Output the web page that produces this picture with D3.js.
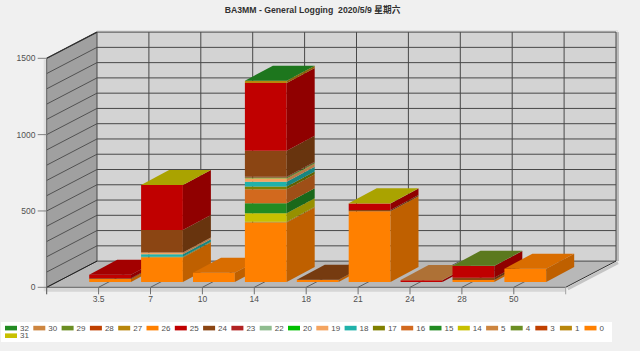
<!DOCTYPE html>
<html><head><meta charset="utf-8">
<script src="https://cdn.jsdelivr.net/npm/d3@7/dist/d3.min.js"></script>
<style>html,body{margin:0;padding:0;background:#f0f0f0}svg{display:block}text{font-family:"Liberation Sans",Arial,sans-serif;fill:#505050}</style>
</head><body><svg id="c" width="640" height="351"></svg>
<script>
const categories=["3.5","7","10","14","18","21","24","28","50"];
const seriesNames=["32","30","29","28","27","26","25","24","23","22","20","19","18","17","16","15","14","5","4","3","1","0","31"];
const seriesColors=["#228b22","#cd853f","#6b8e23","#c04000","#b8860b","#ff8000","#c00000","#8b4513","#b22222","#8fbc8f","#00c000","#f4a460","#20b2aa","#808000","#d2691e","#228b22","#c8c000","#cd853f","#6b8e23","#c04000","#b8860b","#ff8000","#c8c000"];
const stackOrder=["0","1","3","4","5","14","15","16","17","18","19","20","22","23","24","25","26","27","28","29","30","31","32"];
const values={
 "0":[20,160,60,390,13,463,0,13,87],
 "1":[0,3,0,4,0,0,0,0,0],
 "14":[0,0,0,57,0,0,0,0,0],
 "15":[0,0,0,65,0,0,0,0,0],
 "16":[0,0,0,92,0,0,0,0,0],
 "17":[0,3,0,17,0,0,0,0,0],
 "18":[0,15,0,31,0,0,0,0,0],
 "19":[0,13,0,24,0,0,0,0,0],
 "20":[0,0,0,5,0,0,0,0,0],
 "23":[0,0,0,5,0,0,0,0,0],
 "24":[5,146,0,170,1,8,0,15,0],
 "25":[23,295,0,444,0,44,12,77,0],
 "27":[0,0,0,14,0,0,0,0,0],
 "29":[0,0,0,0,0,0,0,1,0],
 "30":[0,0,0,0,0,0,1,0,0],
 "31":[0,1,0,0,0,1,0,0,0],
 "32":[0,0,0,1,0,0,0,0,0]
};
const yTicks=[0,500,1000,1500];
const yGrid=d3.range(0,1501,100);
const colorOf=Object.fromEntries(seriesNames.map((n,i)=>[n,seriesColors[i]]));

const svg=d3.select("#c");
const DX=50.3,DY=-26.2;
const x=d3.scaleLinear().domain([0,10]).range([46.7,565.7]);
const y=d3.scaleLinear().domain([0,1500]).range([287.3,58.3]);
const poly=(pts,f)=>svg.append("polygon").attr("points",pts.map(p=>p.join(",")).join(" ")).attr("fill",f);
const line=(a,b,s,w)=>svg.append("line").attr("x1",a[0]).attr("y1",a[1]).attr("x2",b[0]).attr("y2",b[1]).attr("stroke",s).attr("stroke-width",w||1);
const x0=x(0),x1=x(10),yb=y(0),yt=y(1500);
svg.append("rect").attr("width",640).attr("height",351).attr("fill","#f0f0f0");
// soft edges
line([x0-1.5,yt+1],[x0-1.5,yb+4],"#dedede",3);
line([x0,yb+2.5],[x1,yb+2.5],"#d6d6d6",4);
line([x1+2,yb+1.5],[x1+DX+2,yb+DY+1.5],"#c4c4c4",3);
line([x1+DX+1.5,yt+DY],[x1+DX+1.5,yb+DY],"#bcbcbc",3);
line([x0+DX,yt+DY-1],[x1+DX+2,yt+DY-1],"#dcdcdc",1.5);
// walls
poly([[x0+DX,yt+DY],[x1+DX,yt+DY],[x1+DX,yb+DY],[x0+DX,yb+DY]],"#d3d3d3");
poly([[x0,yt],[x0+DX,yt+DY],[x0+DX,yb+DY],[x0,yb]],"#a0a0a0");
poly([[x0,yb],[x1,yb],[x1+DX,yb+DY],[x0+DX,yb+DY]],"#b8b8b8");
// grid
yGrid.forEach(v=>{
  line([x0,y(v)],[x0+DX,y(v)+DY],"#484848",0.9);
  line([x0+DX,y(v)+DY],[x1+DX,y(v)+DY],"#484848",1);
});
d3.range(0,11).forEach(i=>{
  line([x(i)+DX,yt+DY],[x(i)+DX,yb+DY],"#484848",1);
  if(i>0&&i<10) line([x(i),yb],[x(i)+DX,yb+DY],"#606060",1);
});
line([x0,yb],[x0+DX,yb+DY],"#202020",1);
line([x0,yt],[x0+DX,yt+DY],"#303030",1.2);
line([x0,yb],[x1,yb],"#606060",1);
line([x1,yb],[x1+DX,yb+DY],"#303030",1);
line([x0,yt],[x0,yb],"#606060",1);
// axes
yTicks.forEach(v=>{
  line([x0-9,y(v)],[x0,y(v)],"#808080",1);
  svg.append("text").attr("x",35.5).attr("y",y(v)+3).attr("text-anchor","end").attr("font-size",8.5).text(v);
});
line([x0,yb],[x0,yb+7],"#505050",1);
line([x1,yb],[x1,yb+7],"#a0a0a0",1);
categories.forEach((c,i)=>{
  line([x(i+1),yb],[x(i+1),yb+7],"#707070",1);
  svg.append("text").attr("x",x(i+1)).attr("y",302).attr("text-anchor","middle").attr("font-size",8.5).text(c);
});
// bars
const BW=41.8,BDX=28,BDY=-15,OFF=11.5,BY=-5.3;
const shade=(c,f)=>{const r=d3.rgb(c);return d3.rgb(r.r*f,r.g*f,r.b*f).formatHex();};
categories.forEach((c,i)=>{
  const left=x(i+1)+OFF-BW/2, right=left+BW;
  let acc=0,topColor=null;
  stackOrder.forEach(s=>{
    const v=(values[s]||[])[i]||0; if(!v) return;
    const a=y(acc)+BY,b=y(acc+v)+BY;
    poly([[left,a],[right,a],[right,b],[left,b]],colorOf[s]);
    poly([[right,a],[right+BDX,a+BDY],[right+BDX,b+BDY],[right,b]],shade(colorOf[s],0.75));
    acc+=v;topColor=colorOf[s];
  });
  const t=y(acc)+BY;
  poly([[left,t],[right,t],[right+BDX,t+BDY],[left+BDX,t+BDY]],shade(topColor,0.85));
});
// title
svg.append("text").attr("x",312.5).attr("y",12.5).attr("text-anchor","middle").attr("font-size",8.7).attr("font-weight","bold").style("fill","#303030").style("font-family",'"Liberation Sans","Noto Sans CJK SC",sans-serif').style("white-space","pre").text("BA3MM - General Logging  2020/5/9 星期六");
// legend
svg.append("rect").attr("x",1).attr("y",322).attr("width",611).attr("height",20).attr("fill","#fff");
let lx=5;
seriesNames.forEach((n,i)=>{
  const row=i<22?0:1;
  if(i===22) lx=5;
  const ly=325.8+row*7.6;
  svg.append("rect").attr("x",lx).attr("y",ly).attr("width",12).attr("height",4.6).attr("fill",seriesColors[i]);
  svg.append("text").attr("x",lx+15).attr("y",ly+5).attr("font-size",8).text(n);
  lx+=n.length>1?28.3:24.6;
});
</script></body></html>
